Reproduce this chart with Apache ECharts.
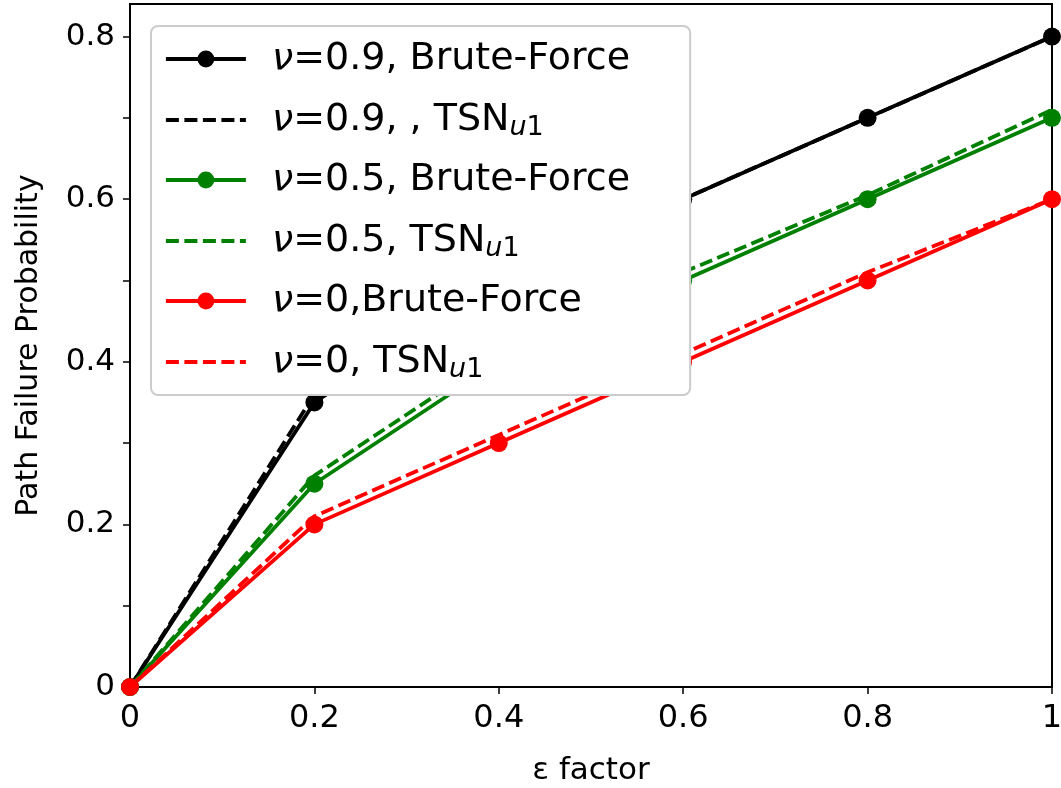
<!DOCTYPE html>
<html><head><meta charset="utf-8">
<script src="https://cdn.jsdelivr.net/npm/echarts@6/dist/echarts.min.js"></script>
<style>html,body{margin:0;padding:0;background:#fff}#c{width:1061px;height:788px}</style>
</head><body><div id="c"></div>
<script>
const xValues = [0, 0.2, 0.4, 0.6, 0.8, 1];
const bf09 = [0, 0.35, 0.5, 0.6, 0.7, 0.8];
const tsn09 = [0, 0.36, 0.51, 0.6, 0.7, 0.8];
const bf05 = [0, 0.25, 0.4, 0.5, 0.6, 0.7];
const tsn05 = [0, 0.26, 0.41, 0.51, 0.605, 0.71];
const bf0 = [0, 0.2, 0.3, 0.4, 0.5, 0.6];
const tsn0 = [0, 0.21, 0.31, 0.41, 0.51, 0.6];
const yLabelTicks = [0, 0.2, 0.4, 0.6, 0.8];
const yMinorTicks = [0, 0.1, 0.2, 0.3, 0.4, 0.5, 0.6, 0.7, 0.8];
const xTicks = [0, 0.2, 0.4, 0.6, 0.8, 1];

const seriesDefs = [
  {name: 'nu09bf', label: '{i|ν}=0.9, Brute-Force', vals: bf09, color: '#000000', dashed: false},
  {name: 'nu09tsn', label: '{i|ν}=0.9, , TSN{s|u}{n|1}', vals: tsn09, color: '#000000', dashed: true},
  {name: 'nu05bf', label: '{i|ν}=0.5, Brute-Force', vals: bf05, color: '#008000', dashed: false},
  {name: 'nu05tsn', label: '{i|ν}=0.5, TSN{s|u}{n|1}', vals: tsn05, color: '#008000', dashed: true},
  {name: 'nu0bf', label: '{i|ν}=0,Brute-Force', vals: bf0, color: '#ff0000', dashed: false},
  {name: 'nu0tsn', label: '{i|ν}=0, TSN{s|u}{n|1}', vals: tsn0, color: '#ff0000', dashed: true}
];
const labelMap = {};
seriesDefs.forEach(d => labelMap[d.name] = d.label);

const FONT = 'DejaVu Sans';
const LW = 3.8;
const DASH = [13, 5.5];
const chart = echarts.init(document.getElementById('c'));
chart.setOption({
  animation: false,
  backgroundColor: '#fff',
  grid: {left: 130, right: 9, top: 4, bottom: 101, outerBoundsMode: 'none', containLabel: false,
    show: true, borderColor: '#000', borderWidth: 2, backgroundColor: 'transparent'},
  xAxis: {
    type: 'value', min: 0, max: 1,
    name: 'ε factor', nameLocation: 'middle', nameGap: 68,
    nameTextStyle: {fontFamily: FONT, fontSize: 31, color: '#000'},
    axisLine: {show: true, lineStyle: {color: '#000', width: 2}},
    axisTick: {show: true, length: 7, lineStyle: {color: '#000', width: 1.5}, customValues: xTicks},
    axisLabel: {fontFamily: FONT, fontSize: 32, color: '#000', margin: 16, customValues: xTicks,
      formatter: v => String(v)},
    splitLine: {show: false}
  },
  yAxis: {
    type: 'value', min: 0, max: 0.84,
    name: 'Path Failure Probability', nameLocation: 'middle', nameGap: 86,
    nameTextStyle: {fontFamily: FONT, fontSize: 30, color: '#000'},
    axisLine: {show: true, lineStyle: {color: '#000', width: 2}},
    axisTick: {show: true, length: 7, lineStyle: {color: '#000', width: 1.5}, customValues: yMinorTicks},
    axisLabel: {fontFamily: FONT, fontSize: 31, color: '#000', margin: 15, customValues: yLabelTicks,
      formatter: v => String(v)},
    splitLine: {show: false}
  },
  legend: {
    orient: 'vertical', left: 151, top: 26,
    padding: [12, 60, 12, 13],
    itemWidth: 80, itemHeight: 21, itemGap: 18,
    backgroundColor: '#fff', borderColor: '#cccccc', borderWidth: 2, borderRadius: 7,
    lineStyle: {width: LW},
    data: seriesDefs.map(d => d.dashed
      ? {name: d.name, itemStyle: {opacity: 0}}
      : {name: d.name}),
    formatter: name => labelMap[name],
    textStyle: {
      fontFamily: FONT, fontSize: 38, color: '#000', lineHeight: 42, padding: [0, 0, 0, 21],
      rich: {
        i: {fontFamily: FONT, fontStyle: 'italic', fontSize: 38, color: '#000', lineHeight: 42},
        s: {fontFamily: FONT, fontStyle: 'italic', fontSize: 27, color: '#000', lineHeight: 42, verticalAlign: 'bottom', padding: [16, 0, 0, 0]},
        n: {fontFamily: FONT, fontSize: 27, color: '#000', lineHeight: 42, verticalAlign: 'bottom', padding: [16, 0, 0, 0]}
      }
    }
  },
  series: seriesDefs.map(d => ({
    name: d.name,
    type: 'line',
    data: xValues.map((x, i) => [x, d.vals[i]]),
    symbol: d.dashed ? 'none' : 'circle',
    showSymbol: !d.dashed,
    symbolSize: 18,
    clip: true,
    lineStyle: {color: d.color, width: LW, type: d.dashed ? DASH : 'solid'},
    itemStyle: {color: d.color},
    z: 2
  }))
});
</script></body></html>
